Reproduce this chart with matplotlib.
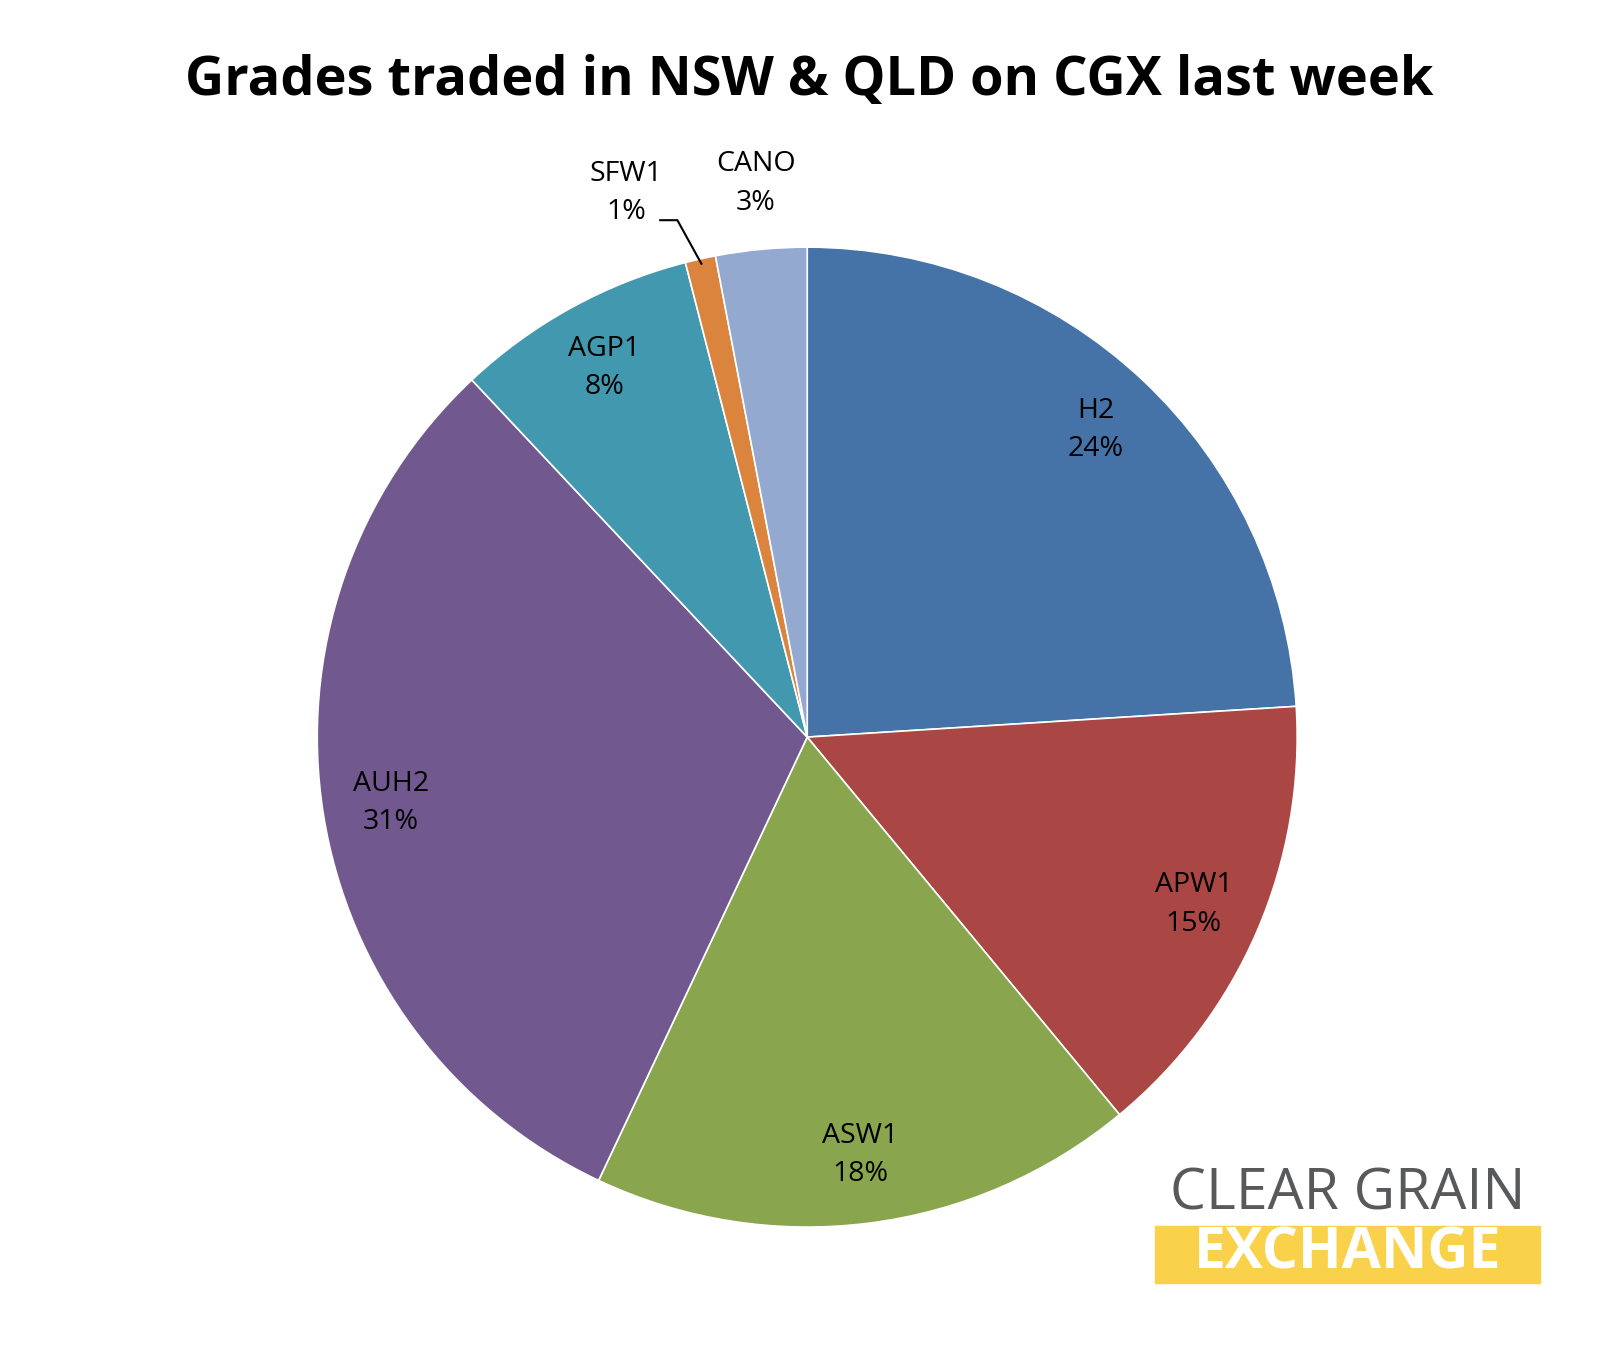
import numpy as np
import matplotlib
matplotlib.use("Agg")
import matplotlib.pyplot as plt

plt.rcParams['font.family'] = ['Open Sans', 'DejaVu Sans']

grades = ["H2", "APW1", "ASW1", "AUH2", "AGP1", "SFW1", "CANO"]
shares = [24, 15, 18, 31, 8, 1, 3]
colors = ["#4572A7", "#AA4643", "#89A54E", "#71588F", "#4198AF", "#DB843D", "#93A9CF"]

fig = plt.figure(figsize=(16.08, 13.5), dpi=100)
ax = fig.add_axes([0.502 - 0.3047, 0.454 - 0.363, 0.6094, 0.726])
wedges, _ = ax.pie(shares, colors=colors, startangle=90, counterclock=False,
                   wedgeprops=dict(linewidth=1.2, edgecolor="white"))
ax.set_aspect("equal")
ax.set_xlim(-1, 1)
ax.set_ylim(-1, 1)

for w, g, s in zip(wedges, grades, shares):
    mid = np.deg2rad((w.theta1 + w.theta2) / 2)
    x, y = np.cos(mid), np.sin(mid)
    txt = f"{g}\n{s}%"
    if g == "CANO":
        ax.text(-0.105, 1.13, txt, ha="center", va="center", fontsize=20.5,
                linespacing=1.5, clip_on=False)
    elif g == "SFW1":
        ax.text(-0.37, 1.11, txt, ha="center", va="center", fontsize=20.5,
                linespacing=1.5, clip_on=False)
        ax.plot([-0.30, -0.265, x * 0.99], [1.055, 1.055, y * 0.99],
                color="black", lw=1.5, clip_on=False)
    else:
        ax.text(0.86 * x, 0.86 * y, txt, ha="center", va="center", fontsize=20.5, linespacing=1.5)

fig.text(0.503, 0.940, "Grades traded in NSW & QLD on CGX last week", ha="center", va="center",
         fontsize=39, fontweight="bold")

# logo
fig.text(0.838, 0.115, "CLEAR GRAIN", ha="center", va="center", fontsize=41, color="#58595B")
fig.patches.append(plt.Rectangle((0.718, 0.050), 0.240, 0.042, transform=fig.transFigure,
                                 color="#F9D14B"))
fig.text(0.838, 0.0715, "EXCHANGE", ha="center", va="center", fontsize=41, color="white",
         fontweight="bold")

fig.savefig("out.png", dpi=100)
